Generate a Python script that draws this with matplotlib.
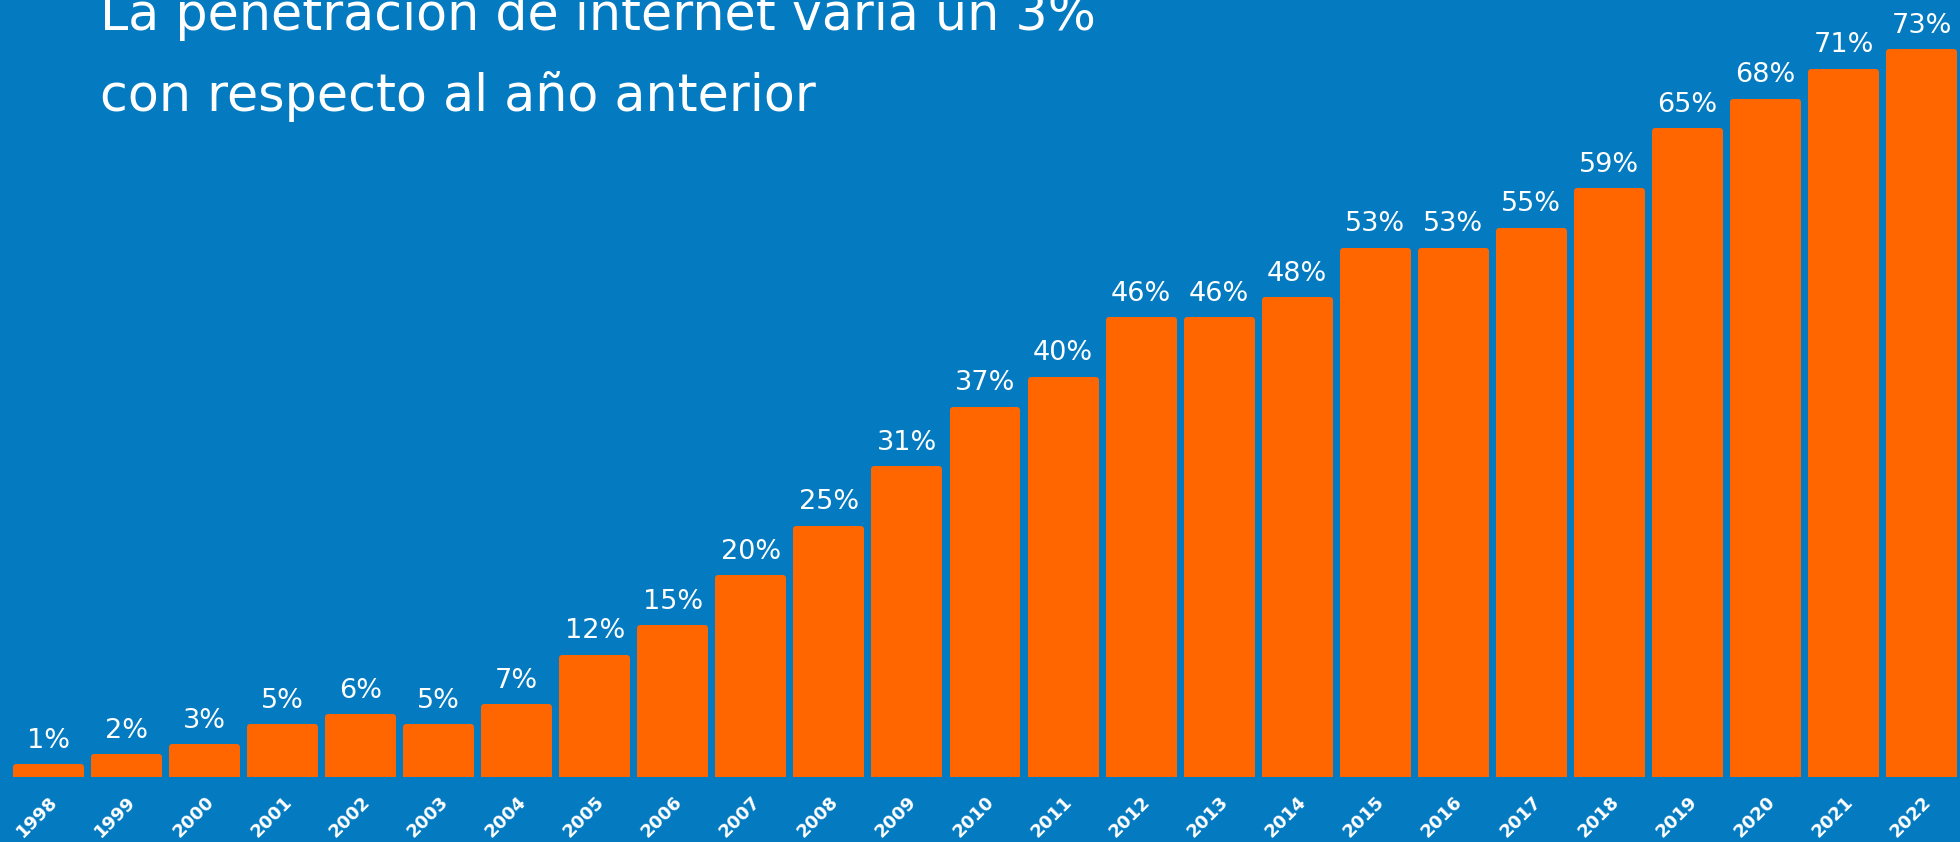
import matplotlib
matplotlib.use("Agg")
import matplotlib.pyplot as plt
from matplotlib.transforms import ScaledTranslation

years = [str(y) for y in range(1998, 2023)]
values = [1, 2, 3, 5, 6, 5, 7, 12, 15, 20, 25, 31, 37, 40, 46, 46, 48, 53, 53, 55, 59, 65, 68, 71, 73]
labels = [f"{v}%" for v in values]
title_lines = ["La penetración de internet varia un 3%", "con respecto al año anterior"]

BG = "#047BC1"
ORANGE = "#FF6600"

W, H, DPI = 19.6, 8.42, 100
fig = plt.figure(figsize=(W, H), dpi=DPI, facecolor=BG)

left_px, right_px = 9.5, 1960.5
base_px = 777
ax = fig.add_axes([left_px / 1960, (842 - base_px) / 842, (right_px - left_px) / 1960, base_px / 842])
ax.set_facecolor(BG)
for s in ax.spines.values():
    s.set_visible(False)

x = list(range(len(values)))
lw_px = 6
bars = ax.bar(x, values, width=0.91 - lw_px / 77.8, color=ORANGE, edgecolor=ORANGE,
              linewidth=lw_px * 72 / DPI)
for b in bars:
    b.set_joinstyle("round")

ax.set_xlim(-0.5, len(values) - 0.5)
ax.set_ylim(0, 73 + 52 / 9.93)
ax.set_yticks([])

for xi, v, lab in zip(x, values, labels):
    ax.annotate(lab, (xi, v), xytext=(0, 14), textcoords="offset points",
                ha="center", va="baseline", color="white", fontsize=19.5,
                family="DejaVu Sans")

ax.set_xticks(x)
ax.set_xticklabels(years, rotation=45, ha="center", va="top", color="white",
                   fontsize=13, fontweight="bold", family="DejaVu Sans")
ax.tick_params(axis="x", length=0, pad=11)
off = ScaledTranslation(-11 / DPI, 0, fig.dpi_scale_trans)
for t in ax.get_xticklabels():
    t.set_transform(t.get_transform() + off)

fig.text(100 / 1960, 1 - 30 / 842, title_lines[0], color="white", fontsize=36.5,
         ha="left", va="baseline", family="DejaVu Sans")
fig.text(100 / 1960, 1 - 111 / 842, title_lines[1], color="white", fontsize=36.5,
         ha="left", va="baseline", family="DejaVu Sans")

fig.savefig("out.png", dpi=DPI, facecolor=BG)
